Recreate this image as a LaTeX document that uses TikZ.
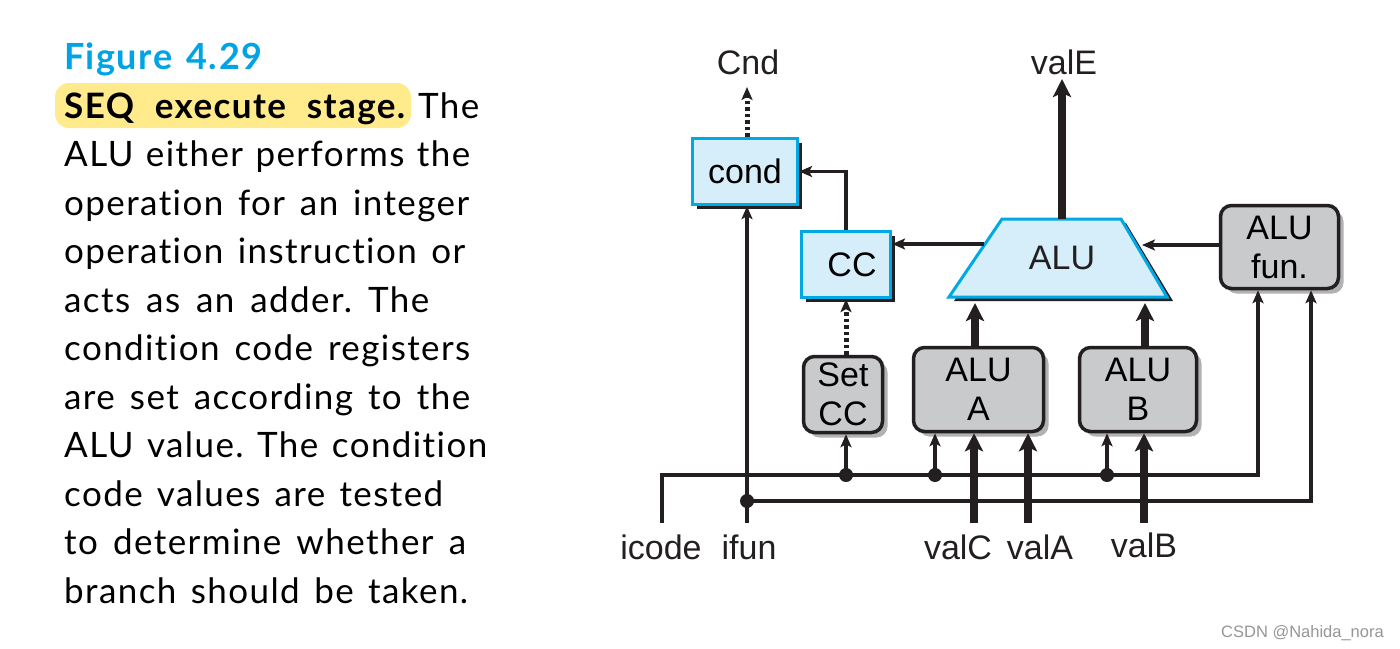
\documentclass[tikz,border=0pt]{standalone}
\usepackage{fontspec}
\setmainfont{Liberation Sans}
\newfontfamily\capfont[Ligatures=NoCommon,LetterSpace=4]{Lato}
\usetikzlibrary{arrows.meta,shadows}
\definecolor{bluebd}{RGB}{0,168,228}
\definecolor{bluefill}{RGB}{214,238,250}
\definecolor{grayfill}{RGB}{201,202,204}
\definecolor{hilite}{RGB}{255,234,140}
\definecolor{figblue}{RGB}{0,164,228}
\definecolor{ink}{RGB}{35,31,32}
\definecolor{wmgray}{RGB}{150,150,150}
\frenchspacing
\newcommand\diafont{\fontsize{34}{39}\selectfont}
\newcommand\capsize{\capfont\fontsize{35}{42}\selectfont}
\newcommand\capfit[2]{\makebox[#1][s]{#2}}
\begin{document}
\begin{tikzpicture}[x=1pt,y=-1pt,
  wire/.style={draw=ink, line width=3.5pt},
  thinarrow/.style={wire, -{Stealth[length=13pt,width=11pt,inset=3pt]}},
  thickarrow/.style={draw=ink, line width=7.5pt, -{Stealth[length=18pt,width=18pt,inset=4pt]}},
  dotarrow/.style={draw=ink, line width=5pt, dash pattern=on 3.5pt off 3pt, -{Stealth[length=13pt,width=11pt,inset=3pt]}},
  bluebox/.style={draw=bluebd, fill=bluefill, line width=3.3pt, inner sep=0pt, font=\diafont,
    drop shadow={shadow xshift=4pt, shadow yshift=-4pt, fill=ink, opacity=1}},
  graybox/.style={draw=ink, fill=grayfill, line width=3.5pt, rounded corners=11pt, inner sep=0pt,
    align=center, font=\diafont,
    drop shadow={shadow xshift=5pt, shadow yshift=-5pt, fill=black!30, opacity=1}},
  lbl/.style={font=\diafont, text=ink, inner sep=0pt, anchor=base},
  capline/.style={font=\capsize, text=black, inner sep=0pt, anchor=base west},
  junction/.style={fill=ink}
]
\useasboundingbox (0,0) rectangle (1400,648);
\fill[white] (0,0) rectangle (1400,648);

% ---------- caption ----------
\fill[hilite, rounded corners=14pt] (55,83) rectangle (411,128);
\node[capline, text=figblue, font=\capfont\fontsize{36}{42}\selectfont\bfseries] (figno) at (64,69) {\capfit{198pt}{Figure 4.29}};
\node[capline] (cap0) at (64,118) {\capfit{341pt}{\bfseries SEQ execute stage.}};
\node[capline] (cap0b) at (418,118) {The};
\node[capline] (cap1) at (64,166.5) {\capfit{406pt}{ALU either performs the}};
\node[capline] (cap2) at (64,215) {\capfit{405pt}{operation for an integer}};
\node[capline] (cap3) at (64,263.5) {\capfit{401pt}{operation instruction or}};
\node[capline] (cap4) at (64,312) {\capfit{365pt}{acts as an adder. The}};
\node[capline] (cap5) at (64,360.5) {\capfit{406pt}{condition code registers}};
\node[capline] (cap6) at (64,409) {\capfit{406pt}{are set according to the}};
\node[capline] (cap7) at (64,457.5) {\capfit{423pt}{ALU value. The condition}};
\node[capline] (cap8) at (64,506) {\capfit{379pt}{code values are tested}};
\node[capline] (cap9) at (64,554.5) {\capfit{402pt}{to determine whether a}};
\node[capline] (cap10) at (64,603) {\capfit{404pt}{branch should be taken.}};

% ---------- boxes ----------
\node[bluebox, minimum width=105pt, minimum height=66pt] (cond) at (745,171.5) {cond};
\node[bluebox, minimum width=89pt, minimum height=66pt] (CC) at (846,264.5) {\hspace*{12pt}CC};
\node[graybox, minimum width=79pt, minimum height=76pt] (SetCC) at (843,394.5) {Set\\CC};
\node[graybox, minimum width=130pt, minimum height=84pt] (ALUA) at (978.5,389.5) {ALU\\A};
\node[graybox, minimum width=117pt, minimum height=84pt] (ALUB) at (1138,389.5) {ALU\\B};
\node[graybox, minimum width=118pt, minimum height=83pt] (ALUfun) at (1279.5,247) {ALU\\fun.};

% ALU trapezoid
\fill[ink] (1007,223) -- (1126,223) -- (1173,301) -- (954,301) -- cycle;
\draw[draw=bluebd, fill=bluefill, line width=3pt] (1002,219) -- (1121,219) -- (1167,297) -- (949,297) -- cycle;
\node[font=\diafont, text=ink, inner sep=0pt] (ALU) at (1062,257.8) {ALU};
\coordinate (aluTop) at (1062,219);
\coordinate (aluLeft) at (984,244);
\coordinate (aluRight) at (1142,245);
\coordinate (aluBotA) at (975,303);
\coordinate (aluBotB) at (1145,303);

% ---------- labels ----------
\node[lbl] (Cnd) at (748,74) {Cnd};
\node[lbl] (valE) at (1064,74) {valE};
\node[lbl] (icode) at (661,559) {icode};
\node[lbl] (ifun) at (749,559) {ifun};
\node[lbl] (valC) at (958,559) {valC};
\node[lbl] (valA) at (1040,559) {valA};
\node[lbl] (valB) at (1144,557) {valB};
\node[font=\fontsize{16.5}{18}\selectfont, text=wmgray, inner sep=0pt, anchor=base east] (wm) at (1384,637) {CSDN @Nahida\_nora};

% ---------- coordinates of wire ends ----------
\coordinate (icodeEnd) at (662,523);
\coordinate (ifunEnd) at (747,523);
\coordinate (valCEnd) at (974,523);
\coordinate (valAEnd) at (1028,523);
\coordinate (valBEnd) at (1144,523);
\coordinate (busIcode) at (1258,475);
\coordinate (busIfun) at (1311,501);
\coordinate (dotSet) at (846,475);
\coordinate (dotA) at (935,475);
\coordinate (dotB) at (1107,475);
\coordinate (dotIfun) at (747,501);
\coordinate (cndTip) at (747,87);
\coordinate (valETip) at (1062,79);

% ---------- connectors ----------
\draw[dotarrow] (cond.north -| cndTip) -- (cndTip);
\draw[thickarrow] (aluTop) -- (valETip);
\draw[thinarrow] (CC.north) |- (cond.east);
\draw[thinarrow] (aluLeft) -- (aluLeft -| CC.east);
\draw[thinarrow] (ALUfun.west |- aluRight) -- (aluRight);
\draw[thickarrow] (ALUA.north -| aluBotA) -- (aluBotA);
\draw[thickarrow] (ALUB.north -| aluBotB) -- (aluBotB);
\draw[dotarrow] (SetCC.north -| CC.south) -- (CC.south);

\draw[thinarrow] (icodeEnd) |- (busIcode) -- (busIcode |- ALUfun.south);
\draw[thinarrow] (ifunEnd) -- (ifunEnd |- cond.south);
\draw[thinarrow] (dotIfun) -- (busIfun) -- (busIfun |- ALUfun.south);
\draw[thinarrow] (dotSet) -- (dotSet |- SetCC.south);
\draw[thinarrow] (dotA) -- (dotA |- ALUA.south);
\draw[thinarrow] (dotB) -- (dotB |- ALUB.south);
\draw[thickarrow] (valCEnd) -- (valCEnd |- ALUA.south);
\draw[thickarrow] (valAEnd) -- (valAEnd |- ALUA.south);
\draw[thickarrow] (valBEnd) -- (valBEnd |- ALUB.south);

\fill[junction] (dotSet) circle (7pt);
\fill[junction] (dotA) circle (7pt);
\fill[junction] (dotB) circle (7pt);
\fill[junction] (dotIfun) circle (7pt);
\end{tikzpicture}
\end{document}
